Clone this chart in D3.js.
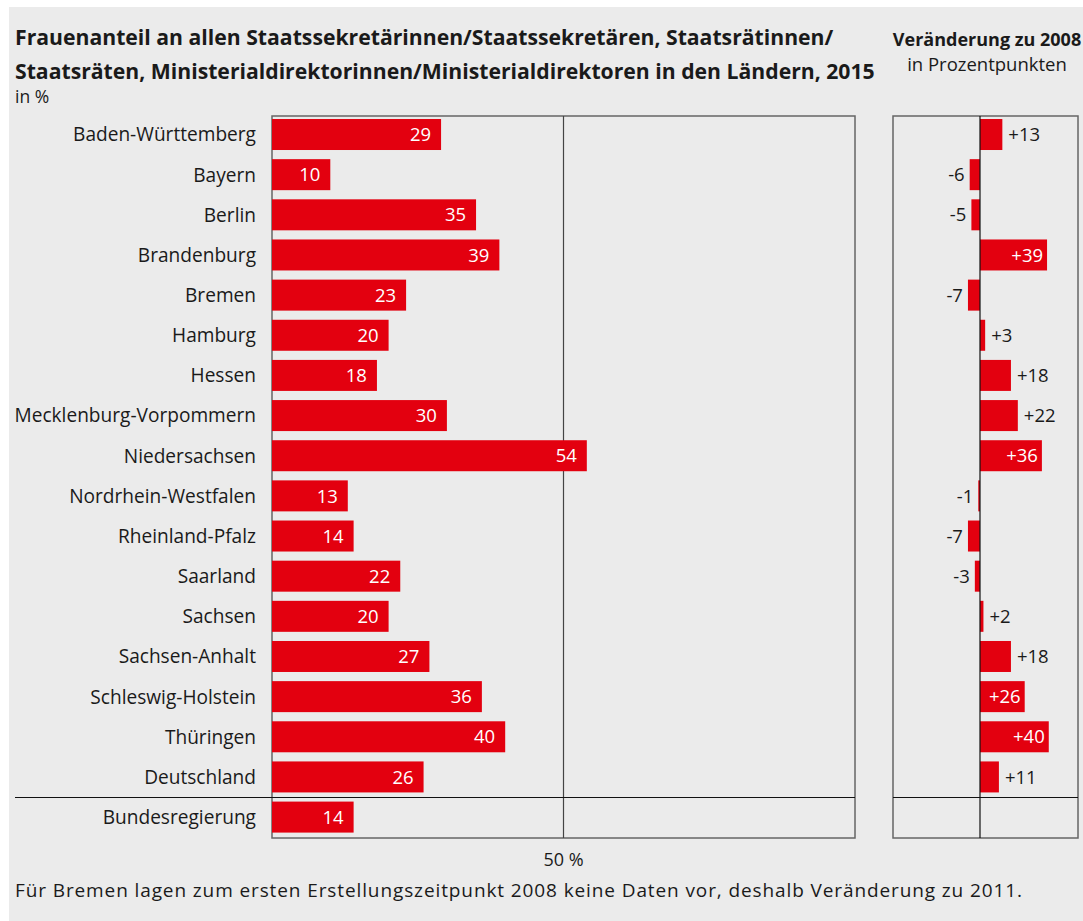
<!DOCTYPE html>
<html><head><meta charset="utf-8">
<script src="https://cdn.jsdelivr.net/npm/d3@7"></script>
<style>body{margin:0;background:#fff;} svg{display:block;font-family:"Open Sans","Noto Sans",sans-serif;}</style>
</head><body>
<script>
const categories = ["Baden-Württemberg","Bayern","Berlin","Brandenburg","Bremen","Hamburg","Hessen","Mecklenburg-Vorpommern","Niedersachsen","Nordrhein-Westfalen","Rheinland-Pfalz","Saarland","Sachsen","Sachsen-Anhalt","Schleswig-Holstein","Thüringen","Deutschland","Bundesregierung"];
const share2015 = [29,10,35,39,23,20,18,30,54,13,14,22,20,27,36,40,26,14];
const change2008 = [13,-6,-5,39,-7,3,18,22,36,-1,-7,-3,2,18,26,40,11,null];
const titleLines = ["Frauenanteil an allen Staatssekretärinnen/Staatssekretären, Staatsrätinnen/","Staatsräten, Ministerialdirektorinnen/Ministerialdirektoren in den Ländern, 2015"];
const unitLabel = "in %";
const rightTitle = ["Veränderung zu 2008","in Prozentpunkten"];
const tickLabel = "50 %";
const footnote = "Für Bremen lagen zum ersten Erstellungszeitpunkt 2008 keine Daten vor, deshalb Veränderung zu 2011.";

(function(){
const W=1083,H=921;
const svg=d3.select("body").append("svg").attr("width",W).attr("height",H);
svg.append("rect").attr("x",9).attr("y",7).attr("width",W-9).attr("height",H-7).attr("fill","#ebebeb");

const red="#e3000f", ink="#1a1a1a";
const pTop=116, pBottom=838;
const y=d3.scaleBand().domain(categories).range([115,836.6]).paddingInner(0.228).paddingOuter(0.1);
const x=d3.scaleLinear().domain([0,100]).range([272,855]);
const x2=d3.scaleLinear().domain([-50.6,57]).range([893,1078]);

const t=svg.append("text").attr("font-weight","bold").attr("font-size",21.2).attr("fill",ink);
titleLines.forEach((l,i)=>t.append("tspan").attr("x",15).attr("y",45+i*34).text(l));
svg.append("text").attr("x",15).attr("y",103).attr("font-size",17.5).attr("fill",ink).text(unitLabel);
svg.append("text").attr("x",987).attr("y",46).attr("text-anchor","middle").attr("font-weight","bold").attr("font-size",18).attr("fill",ink).text(rightTitle[0]);
svg.append("text").attr("x",987).attr("y",71).attr("text-anchor","middle").attr("font-size",18.5).attr("fill",ink).text(rightTitle[1]);

svg.append("rect").attr("x",272).attr("y",pTop).attr("width",583).attr("height",pBottom-pTop).attr("fill","none").attr("stroke","#666").attr("stroke-width",1.5);
svg.append("rect").attr("x",893).attr("y",pTop).attr("width",185).attr("height",pBottom-pTop).attr("fill","none").attr("stroke","#666").attr("stroke-width",1.5);
svg.append("line").attr("x1",x(50)).attr("x2",x(50)).attr("y1",pTop).attr("y2",pBottom).attr("stroke","#444").attr("stroke-width",1.2);

const rows=categories.map((c,i)=>({c,v:share2015[i],d:change2008[i]}));
svg.selectAll(".bar").data(rows).join("rect").attr("x",x(0)).attr("y",d=>y(d.c)).attr("width",d=>x(d.v)-x(0)).attr("height",y.bandwidth()).attr("fill",red);
svg.selectAll(".val").data(rows).join("text").attr("x",d=>x(d.v)-10).attr("y",d=>y(d.c)+y.bandwidth()/2).attr("dy","0.36em").attr("text-anchor","end").attr("font-size",18.5).attr("fill","#fff").text(d=>d.v);
svg.selectAll(".lab").data(rows).join("text").attr("x",256).attr("y",d=>y(d.c)+y.bandwidth()/2).attr("dy","0.36em").attr("text-anchor","end").attr("font-size",19.1).attr("fill",ink).text(d=>d.c);

const rr=rows.filter(d=>d.d!==null);
svg.selectAll(".bar2").data(rr).join("rect").attr("x",d=>x2(Math.min(0,d.d))).attr("y",d=>y(d.c)).attr("width",d=>Math.abs(x2(d.d)-x2(0))).attr("height",y.bandwidth()).attr("fill",red);
svg.append("line").attr("x1",x2(0)).attr("x2",x2(0)).attr("y1",pTop).attr("y2",pBottom).attr("stroke","#111").attr("stroke-width",1.2);
svg.selectAll(".val2").data(rr).join("text")
  .attr("x",d=>d.d<0?x2(d.d)-5:(d.d>=25?x2(d.d)-4:x2(d.d)+6))
  .attr("y",d=>y(d.c)+y.bandwidth()/2).attr("dy","0.36em")
  .attr("text-anchor",d=>d.d<0||d.d>=25?"end":"start")
  .attr("font-size",18.5).attr("fill",d=>d.d>=25?"#fff":ink)
  .text(d=>(d.d>0?"+":(d.d<0?"-":""))+Math.abs(d.d));

const sepY=Math.round((y("Deutschland")+y.bandwidth()+y("Bundesregierung"))/2)+0.5;
svg.append("line").attr("x1",15).attr("x2",855).attr("y1",sepY).attr("y2",sepY).attr("stroke","#111").attr("stroke-width",1.2);
svg.append("line").attr("x1",893).attr("x2",1078).attr("y1",sepY).attr("y2",sepY).attr("stroke","#111").attr("stroke-width",1.2);

svg.append("text").attr("x",x(50)).attr("y",866).attr("text-anchor","middle").attr("font-size",18).attr("fill",ink).text(tickLabel);
svg.append("text").attr("x",15).attr("y",897).attr("font-size",19).attr("textLength",1007).attr("lengthAdjust","spacing").attr("fill",ink).text(footnote);
})();
</script>
</body></html>
